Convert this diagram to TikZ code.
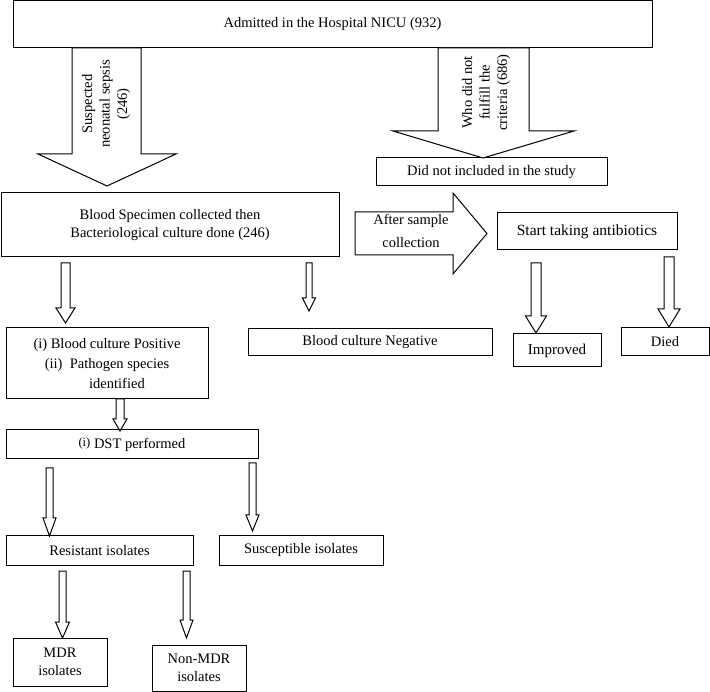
\documentclass[tikz,border=0pt]{standalone}
\usepackage{fontspec}
\setmainfont{Liberation Serif}
% hollow down arrow: x, top, tip, shaft half, head half, head length
\newcommand{\dnarrow}[6]{%
 \draw[blk] (#1-#4,#2) -- (#1+#4,#2) -- (#1+#4,#3-#6) -- (#1+#5,#3-#6)
  -- (#1,#3) -- (#1-#5,#3-#6) -- (#1-#4,#3-#6) -- cycle;}
\begin{document}
\begin{tikzpicture}[x=1pt,y=-1pt,
 stage/.style 2 args={draw,line width=1pt,inner sep=0pt,align=center,
  minimum width=#1,minimum height=#2,font=\fontsize{14.5}{18}\selectfont},
 blk/.style={draw,fill=white,line width=1pt,line join=miter},
 side/.style={rotate=90,align=center,font=\fontsize{14.6}{17.5}\selectfont}]
\path[fill=white] (0,0) rectangle (710,692);
\useasboundingbox (0,0) rectangle (710,692);
% boxes
\node[stage={639pt}{47pt}] (admit) at (332.5,24.5)
 {Admitted in the Hospital NICU (932)};
\node[stage={231pt}{28pt}] (excluded) at (491.5,172)
 {Did not included in the study};
\node[stage={338pt}{64pt}] (specimen) at (170,225)
 {Blood Specimen collected then\\Bacteriological culture done (246)};
\node[stage={180pt}{37pt},font=\fontsize{15.5}{18}\selectfont] (antibio) at (587,231.5)
 {Start taking antibiotics};
\node[stage={202pt}{71pt},font=\fontsize{14.5}{20}\selectfont] (positive) at (107,363.5)
 {(i) Blood culture Positive\\(ii)~~Pathogen species\\\hspace*{20pt}identified};
\node[stage={244pt}{27pt}] (negative) at (370,342.5) {Blood culture Negative};
\node[stage={88pt}{33pt},font=\fontsize{15}{18}\selectfont] (improved) at (557,350.5) {Improved};
\node[stage={88pt}{28pt}] (died) at (665,342) {Died};
\node[stage={252pt}{29pt}] (dst) at (132,444.5)
 {{\fontsize{12.5}{13}\selectfont\raisebox{1.5pt}{(i)}} DST performed};
\node[stage={187pt}{29pt}] (resist) at (99.5,550.5) {Resistant isolates};
\node[stage={164pt}{29pt}] (suscept) at (301,550.5) {Susceptible isolates};
\node[stage={94pt}{48pt}] (mdr) at (60,662) {MDR\\isolates};
\node[stage={94pt}{46pt}] (nonmdr) at (199,668) {Non-MDR\\isolates};
% big arrows
\draw[blk] (72,48) -- (141,48) -- (141,154) -- (176,154) -- (107,186)
 -- (38,154) -- (72,154) -- cycle;
\draw[blk] (438,48) -- (529,48) -- (529,131) -- (574,131) -- (483,158)
 -- (393,131) -- (438,131) -- cycle;
\draw[blk] (355,212) -- (453,212) -- (453,193) -- (487,233.5) -- (453,274)
 -- (453,255) -- (355,255) -- cycle;
\node[side] (suspected) at (106,104) {Suspected\\neonatal sepsis\\(246)};
\node[side] (notfulfil) at (486,92.5) {Who did not\\fulfill the\\criteria (686)};
\node[align=center,font=\fontsize{14.5}{23}\selectfont] (after) at (411,231)
 {After sample\\collection};
% thin arrows
\dnarrow{65.5}{263}{323}{4.5}{9.5}{15}
\dnarrow{309}{263}{311}{3}{6.5}{13}
\dnarrow{120}{399}{431}{4}{7}{12}
\dnarrow{49.5}{468}{536}{3.5}{6.5}{18}
\dnarrow{252.5}{463}{531}{3.5}{6.5}{16}
\dnarrow{62.5}{571}{638}{3.5}{7}{16}
\dnarrow{186.5}{571}{638}{3.5}{6.5}{18}
\dnarrow{536}{263}{333}{5}{10.5}{17}
\dnarrow{669}{257}{327}{5}{11}{18}
\end{tikzpicture}
\end{document}
